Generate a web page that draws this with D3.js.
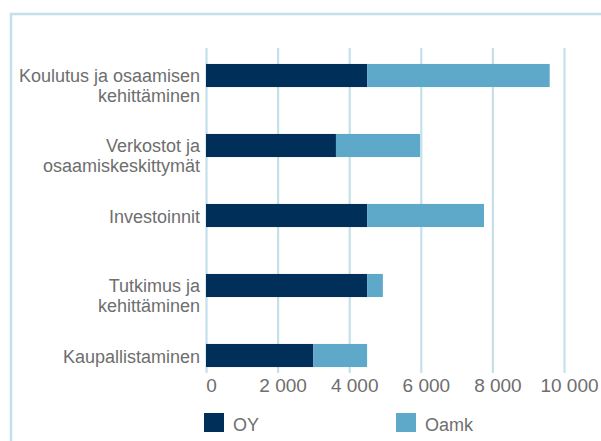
<!DOCTYPE html>
<html>
<head>
<meta charset="utf-8">
<script src="https://cdn.jsdelivr.net/npm/d3@7"></script>
<style>
  body { margin: 0; background: #fff; }
  svg { display: block; }
  text { font-family: "Liberation Sans", Arial, sans-serif; fill: #6e6e6e; }
</style>
</head>
<body>
<svg></svg>
<script>
const width = 601;
const height = 441;

// data
const categories = ['Koulutus ja osaamisen kehittäminen', 'Verkostot ja osaamiskeskittymät', 'Investoinnit', 'Tutkimus ja kehittäminen', 'Kaupallistaminen'];
const labelLines = [['Koulutus ja osaamisen', 'kehittäminen'], ['Verkostot ja', 'osaamiskeskittymät'], ['Investoinnit'], ['Tutkimus ja', 'kehittäminen'], ['Kaupallistaminen']];
const oyValues = [4500, 3630, 4500, 4500, 3000];
const oamkValues = [5100, 2350, 3265, 440, 1500];
const seriesNames = ['OY', 'Oamk'];
const seriesColors = ['#00305a', '#5ea9ca'];
const tickValues = [0, 2000, 4000, 6000, 8000, 10000];

const gridColor = '#c4e0e9';

const svg = d3.select('svg')
    .attr('width', width)
    .attr('height', height);

// outer frame (runs off the right and bottom edge)
svg.append('rect')
    .attr('x', 11).attr('y', 14)
    .attr('width', 700).attr('height', 600)
    .attr('fill', 'none')
    .attr('stroke', gridColor)
    .attr('stroke-width', 2.5);

const xScale = d3.scaleLinear()
    .domain([0, 10000])
    .range([206, 564]);

const yScale = d3.scaleBand()
    .domain(categories)
    .range([40.5, 390.5])
    .paddingInner(0.67)
    .paddingOuter(0.335);

const fi = d3.formatLocale({decimal: ',', thousands: ' ', grouping: [3], currency: ['', '€']});

const gridTop = 48, gridBottom = 373;

const xAxis = svg.append('g')
    .attr('transform', `translate(0, ${gridBottom})`)
    .call(d3.axisBottom(xScale)
        .tickValues(tickValues)
        .tickFormat(fi.format(',d'))
        .tickSizeInner(-(gridBottom - gridTop))
        .tickSizeOuter(0)
        .tickPadding(6));
xAxis.select('.domain').remove();
xAxis.selectAll('.tick line').attr('stroke', gridColor).attr('stroke-width', 2.2);
xAxis.selectAll('.tick text')
    .attr('dx', 5)
    .style('font-size', '19px')
    .attr('fill', '#6e6e6e');

// stacked bars
const stackData = categories.map((c, i) => ({cat: c, OY: oyValues[i], Oamk: oamkValues[i]}));
const stacked = d3.stack().keys(seriesNames)(stackData);

svg.append('g').selectAll('g')
    .data(stacked)
    .enter().append('g')
    .attr('fill', (d, i) => seriesColors[i])
    .selectAll('rect')
    .data(d => d)
    .enter().append('rect')
    .attr('x', d => xScale(d[0]))
    .attr('y', d => yScale(d.data.cat))
    .attr('width', d => xScale(d[1]) - xScale(d[0]))
    .attr('height', yScale.bandwidth());

// category labels
const labels = svg.append('g').selectAll('text')
    .data(categories)
    .enter().append('text')
    .attr('text-anchor', 'end')
    .style('font-size', '18px')
    .attr('y', (d, i) => {
        const mid = yScale(d) + yScale.bandwidth() / 2;
        return labelLines[i].length > 1 ? mid + 6 : mid + 7;
    });

labels.each(function(d, i) {
    const t = d3.select(this);
    const y = +t.attr('y');
    labelLines[i].forEach((line, j) => {
        t.append('tspan')
            .attr('x', 200)
            .attr('y', y + j * 20)
            .text(line);
    });
});

// legend
const legend = svg.append('g').selectAll('g')
    .data(seriesNames)
    .enter().append('g')
    .attr('transform', (d, i) => `translate(${[204, 396][i]}, 413)`);

legend.append('rect')
    .attr('width', 20).attr('height', 19)
    .attr('fill', (d, i) => seriesColors[i]);

legend.append('text')
    .attr('x', 29).attr('y', 18)
    .style('font-size', '18px')
    .text(d => d);
</script>
</body>
</html>
